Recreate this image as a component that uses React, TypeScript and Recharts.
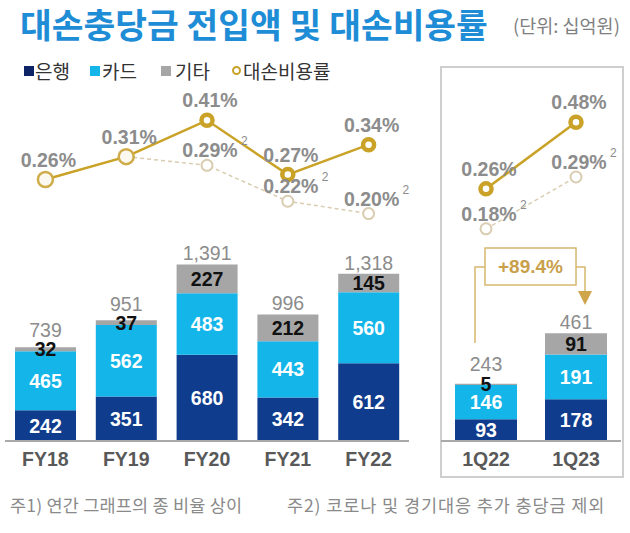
import React from 'react'
import { ComposedChart, Bar, Line, XAxis, YAxis, LabelList } from 'recharts'

// 연간 (FY)
const annualLabels = ['FY18', 'FY19', 'FY20', 'FY21', 'FY22']
const annualBank = [242, 351, 680, 342, 612]
const annualCard = [465, 562, 483, 443, 560]
const annualEtc = [32, 37, 227, 212, 145]
const annualTotal = [739, 951, 1391, 996, 1318]
const annualRate = [0.26, 0.31, 0.41, 0.27, 0.34]
const annualRateEx = [0.26, 0.31, 0.29, 0.22, 0.2]

// 분기
const quarterLabels = ['1Q22', '1Q23']
const quarterBank = [93, 178]
const quarterCard = [146, 191]
const quarterEtc = [5, 91]
const quarterTotal = [243, 461]
const quarterRate = [0.26, 0.48]
const quarterRateEx = [0.18, 0.29]
const quarterGrowth = '+89.4%'

const annualData = annualLabels.map((label, i) => ({
  label,
  bank: annualBank[i],
  card: annualCard[i],
  etc: annualEtc[i],
  total: annualTotal[i],
  rate: annualRate[i],
  rateEx: annualRateEx[i],
}))

const quarterData = quarterLabels.map((label, i) => ({
  label,
  bank: quarterBank[i],
  card: quarterCard[i],
  etc: quarterEtc[i],
  total: quarterTotal[i],
  rate: quarterRate[i],
  rateEx: quarterRateEx[i],
}))

const NAVY = '#0f3c8c'
const CYAN = '#14b6ea'
const GRAY = '#a6a6a6'
const GOLD = '#c9a227'
const LIGHT_GOLD = '#d9ccb0'
const NUM_FONT = '"Liberation Sans", Arial, sans-serif'
const KR_FONT = '"Noto Sans CJK KR", "Noto Sans", sans-serif'

const AxisTick = (props: any) => {
  const { x, y, payload } = props
  return (
    <text x={x} y={y} dy={17} textAnchor="middle" fill="#595959" fontSize={19.5} fontWeight="bold" fontFamily={NUM_FONT}>
      {payload.value}
    </text>
  )
}

const TotalLabel = (props: any) => {
  const { x, y, width, height, value } = props
  const lift = Math.max(0, 10 - height)
  return (
    <text x={x + width / 2} y={y - 4 - lift} textAnchor="middle" fill="#8c8c8c" fontSize={19.5} fontFamily={NUM_FONT}>
      {Number(value).toLocaleString('en-US')}
    </text>
  )
}

const RateLabel = (props: any) => {
  const { x, y, value } = props
  return (
    <text x={x + 3} y={y - 13} textAnchor="middle" fill="#8c8c8c" fontSize={19.5} fontWeight="bold" fontFamily={NUM_FONT}>
      {value.toFixed(2)}%
    </text>
  )
}

const makeExLabel = (skip: number) => (props: any) => {
  const { x, y, value, index } = props
  if (index < skip) return null
  return (
    <g>
      <text x={x + 3} y={y - 8} textAnchor="middle" fill="#8c8c8c" fontSize={19.5} fontWeight="bold" fontFamily={NUM_FONT}>
        {value.toFixed(2)}%
      </text>
      <text x={x + 34} y={y - 20} fill="#8c8c8c" fontSize={12} fontFamily={NUM_FONT}>
        2
      </text>
    </g>
  )
}

const makeSolidDot = (light: number) => (p: any) => {
  if (p.index < light) {
    return <circle key={p.index} cx={p.cx} cy={p.cy} r={7.5} fill="#fbf8ef" stroke="#cfac4a" strokeWidth={2.5} />
  }
  return <circle key={p.index} cx={p.cx} cy={p.cy} r={5.5} fill="#fff" stroke={GOLD} strokeWidth={4.5} />
}

const exDot = (p: any) => (
  <circle key={p.index} cx={p.cx} cy={p.cy} r={5.5} fill="#fff" stroke={LIGHT_GOLD} strokeWidth={2} />
)

const barLabel = { fill: '#fff', fontSize: 19.5, fontWeight: 'bold', fontFamily: NUM_FONT }

function renderChart(data: any[], width: number, margin: any, amtMax: number, rateDomain: number[], lightDots: number, exSkip: number, barSize: number) {
  return (
    <ComposedChart width={width} height={533} data={data} margin={margin}>
      <XAxis
        dataKey="label"
        tick={<AxisTick />}
        tickLine={false}
        axisLine={{ stroke: '#a9a9a9', strokeWidth: 2 }}
        height={30}
        interval={0}
      />
      <YAxis yAxisId="amt" hide domain={[0, amtMax]} allowDataOverflow />
      <YAxis yAxisId="rate" hide scale="log" domain={rateDomain} allowDataOverflow />
      <Bar dataKey="bank" stackId="s" yAxisId="amt" fill={NAVY} barSize={barSize} isAnimationActive={false}>
        <LabelList dataKey="bank" position="center" {...barLabel} />
      </Bar>
      <Bar dataKey="card" stackId="s" yAxisId="amt" fill={CYAN} barSize={barSize} isAnimationActive={false}>
        <LabelList dataKey="card" position="center" {...barLabel} />
      </Bar>
      <Bar dataKey="etc" stackId="s" yAxisId="amt" fill={GRAY} barSize={barSize} isAnimationActive={false}>
        <LabelList dataKey="etc" position="center" {...barLabel} fill="#111" />
        <LabelList dataKey="total" content={<TotalLabel />} />
      </Bar>
      <Line
        dataKey="rateEx"
        yAxisId="rate"
        type="linear"
        stroke={LIGHT_GOLD}
        strokeWidth={1.5}
        strokeDasharray="4 3"
        dot={exDot}
        activeDot={false}
        isAnimationActive={false}
      >
        <LabelList dataKey="rateEx" content={makeExLabel(exSkip)} />
      </Line>
      <Line
        dataKey="rate"
        yAxisId="rate"
        type="linear"
        stroke={GOLD}
        strokeWidth={2.5}
        dot={makeSolidDot(lightDots)}
        activeDot={false}
        isAnimationActive={false}
      >
        <LabelList dataKey="rate" content={<RateLabel />} />
      </Line>
    </ComposedChart>
  )
}

const legendItems = [
  { name: '은행', color: '#0d2566', left: 24, textLeft: 35 },
  { name: '카드', color: CYAN, left: 90, textLeft: 102 },
  { name: '기타', color: GRAY, left: 161, textLeft: 175 },
]

export default function App() {
  const abs = (left: number, top: number): React.CSSProperties => ({ position: 'absolute', left, top, whiteSpace: 'nowrap' })
  return (
    <div style={{ position: 'absolute', left: 0, top: 0, width: 630, height: 533, background: '#fff', fontFamily: KR_FONT }}>
      <svg style={{ position: 'absolute', left: 0, top: 0 }} width={630} height={533}>
        <rect x={441} y={67} width={182} height={410} fill="none" stroke="#cfcfcf" strokeWidth={2} />
      </svg>

      <div style={{ ...abs(20, 2), fontSize: 34.5, fontWeight: 'bold', color: '#1f8dd6', lineHeight: 1.25 }}>
        대손충당금 전입액 및 대손비용률
      </div>
      <div style={{ ...abs(513, 14), fontSize: 18.5, color: '#7f7f7f', lineHeight: 1.25 }}>(단위: 십억원)</div>

      {legendItems.map((it) => (
        <React.Fragment key={it.name}>
          <div style={{ ...abs(it.left, 66), width: 10, height: 10, background: it.color }} />
          <div style={{ ...abs(it.textLeft, 59), fontSize: 19, color: '#333', lineHeight: 1.25 }}>{it.name}</div>
        </React.Fragment>
      ))}
      <div
        style={{
          ...abs(232, 66),
          width: 5,
          height: 5,
          borderRadius: '50%',
          border: `2.5px solid ${GOLD}`,
        }}
      />
      <div style={{ ...abs(243, 59), fontSize: 19, color: '#333', lineHeight: 1.25 }}>대손비용률</div>

      <div style={abs(0, 0)}>
        {renderChart(annualData, 420, { top: 90, right: 11, bottom: 62, left: 5 }, 351 / 0.127, [0.03477, 0.5177], 2, 2, 61)}
      </div>
      <div style={abs(430, 0)}>
        {renderChart(quarterData, 200, { top: 90, right: 9, bottom: 62, left: 11 }, 351 / 0.2345, [0.02551, 0.6461], 0, 0, 62)}
      </div>

      <svg style={{ position: 'absolute', left: 0, top: 0, pointerEvents: 'none' }} width={630} height={533}>
        <polyline points="475,343 475,267 485,267" fill="none" stroke="#d6b86e" strokeWidth={1.5} />
        <rect x={485} y={248} width={91} height={37} fill="#fff" stroke="#d6b86e" strokeWidth={1.5} />
        <text x={530.5} y={273} textAnchor="middle" fill="#c9a04a" fontSize={19} fontWeight="bold" fontFamily={NUM_FONT}>
          {quarterGrowth}
        </text>
        <polyline points="576,267 585,267 585,292" fill="none" stroke="#d6b86e" strokeWidth={1.5} />
        <polygon points="578,291 592,291 585,305" fill="#cfa44a" />
      </svg>

      <div style={{ ...abs(10, 494), fontSize: 17.5, color: '#8a8a8a', lineHeight: 1.25, letterSpacing: 0.2 }}>
        주1) 연간 그래프의 종 비율 상이
      </div>
      <div style={{ ...abs(287, 494), fontSize: 17.5, color: '#8a8a8a', lineHeight: 1.25, letterSpacing: 0.9 }}>
        주2) 코로나 및 경기대응 추가 충당금 제외
      </div>
    </div>
  )
}
